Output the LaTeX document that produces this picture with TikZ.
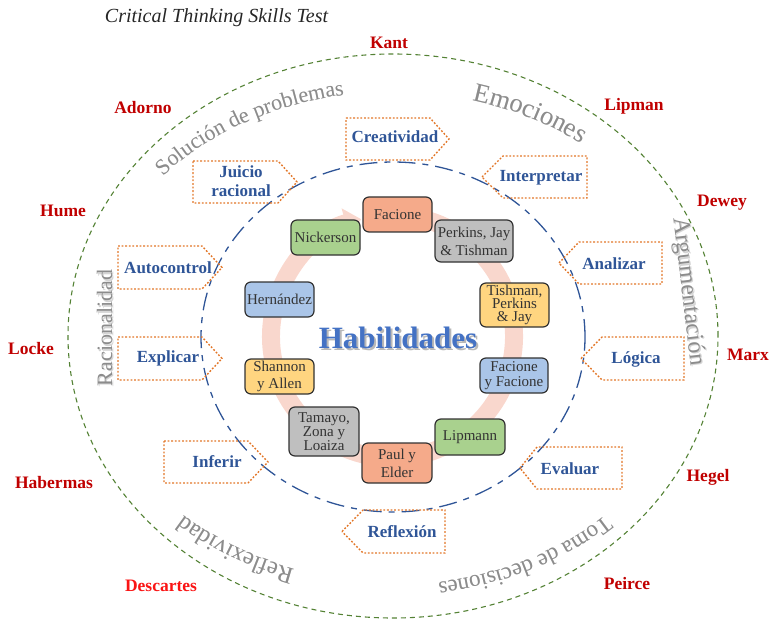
\documentclass[tikz,border=0pt]{standalone}
\usepackage{fontspec}
\setmainfont{Liberation Serif}
\usetikzlibrary{decorations.text,calc,arrows.meta}
\definecolor{redn}{RGB}{192,0,0}
\definecolor{redb}{RGB}{250,20,20}
\definecolor{blued}{RGB}{47,85,151}
\definecolor{bluem}{RGB}{68,114,196}
\definecolor{orng}{RGB}{226,118,40}
\definecolor{grn}{RGB}{84,130,53}
\definecolor{ringc}{RGB}{249,215,205}
\definecolor{salm}{RGB}{245,170,138}
\definecolor{grayf}{RGB}{191,191,191}
\definecolor{yelf}{RGB}{255,213,128}
\definecolor{bluef}{RGB}{170,197,232}
\definecolor{grnf}{RGB}{169,209,142}
\definecolor{bord}{RGB}{50,50,50}
\definecolor{txtd}{RGB}{51,51,51}
\definecolor{gtxt}{RGB}{140,140,140}
\definecolor{gshd}{RGB}{212,212,212}
\definecolor{titc}{RGB}{38,38,38}
\newcommand\penR[5]{\draw[pent] (#1,#4) -- (#2,#4) -- (#3,{(#4+#5)/2}) -- (#2,#5) -- (#1,#5) -- cycle;}
\newcommand\penL[5]{\draw[pent] (#1,{(#4+#5)/2}) -- (#2,#4) -- (#3,#4) -- (#3,#5) -- (#2,#5) -- cycle;}
\begin{document}
\begin{tikzpicture}[x=1pt,y=1pt,
  redname/.style={text=redn, font=\bfseries\fontsize{17.5}{20}\selectfont, inner sep=0pt},
  skill/.style={text=blued, font=\bfseries\fontsize{17}{19}\selectfont, align=center, inner sep=0pt},
  pent/.style={draw=orng, line width=1.4pt, dash pattern=on 1.8pt off 1.8pt},
  author/.style={draw=bord, line width=1.2pt, rounded corners=6pt, align=center, text=txtd,
     font=\fontsize{15}{15}\selectfont, inner sep=0pt, minimum width=69pt, minimum height=35pt},
  gtext/.style={inner sep=0pt, anchor=base},
  outerring/.style={draw=grn, line width=1.1pt, dash pattern=on 5pt off 4pt},
  innerring/.style={draw=blued, line width=1.3pt, dash pattern=on 18pt off 7pt on 6pt off 7pt}
]
\useasboundingbox (0,0) rectangle (770,622);
\coordinate (C) at (393,285);
\coordinate (Co) at (393,286);
\coordinate (Cr) at (392.5,285.5);

% ellipses
\draw[outerring] (Co) ellipse [x radius=325, y radius=282];
\draw[innerring] (C) ellipse [x radius=192, y radius=175];

% circular arrow
\draw[ringc, line width=18pt, -{Triangle[width=30pt,length=16pt]}]
  ($(Cr)+(80:121.5)$) arc[start angle=80, end angle=-255, radius=121.5];

% title
\node[font=\itshape\fontsize{20}{22}\selectfont, text=titc, inner sep=0pt] (title) at (216.5,604) {Critical Thinking Skills Test};

% red names
\node[redname] (kant) at (389,579) {Kant};
\node[redname] (adorno) at (143,514) {Adorno};
\node[redname] (lipman) at (634,516) {Lipman};
\node[redname] (hume) at (63,411) {Hume};
\node[redname] (dewey) at (722,419) {Dewey};
\node[redname] (locke) at (31,273) {Locke};
\node[redname] (marx) at (748,267) {Marx};
\node[redname] (habermas) at (54,139) {Habermas};
\node[redname] (hegel) at (708,145) {Hegel};
\node[redname, text=redb] (descartes) at (161,36) {Descartes};
\node[redname] (peirce) at (627,38) {Peirce};

% gray curved texts (shadow + text)
\foreach \sx/\sy/\col in {1.3/-1.3/gshd, 0/0/gtxt}{
  \begin{scope}[shift={(\sx,\sy)}]
  \path[decorate,decoration={text along path,text align=center,
     text={|\fontsize{22}{22}\selectfont\color{\col}|Solución de problemas}}]
     ($(C)+(150:305 and 245)$) arc[start angle=150,end angle=89.5,x radius=305,y radius=245];
  \path[decorate,decoration={text along path,text align=center,
     text={|\fontsize{26.5}{26.5}\selectfont\color{\col}|Emociones}}]
     ($(C)+(85:305 and 245)$) arc[start angle=85,end angle=41,x radius=305,y radius=245];
  \path[decorate,decoration={text along path,text align=center,
     text={|\fontsize{24}{24}\selectfont\color{\col}|Reflexividad}}]
     ($(C)+(260:305 and 245)$) arc[start angle=260,end angle=217,x radius=305,y radius=245];
  \path[decorate,decoration={text along path,text align=center,
     text={|\fontsize{23}{23}\selectfont\color{\col}|Toma de decisiones}}]
     ($(C)+(-33:305 and 248)$) arc[start angle=-33,end angle=-93,x radius=305,y radius=248];
  \end{scope}
}
\node[gtext, rotate=90, text=gshd, font=\fontsize{22}{22}\selectfont] (racsh) at (113.3,292.7) {Racionalidad};
\node[gtext, rotate=90, text=gtxt, font=\fontsize{22}{22}\selectfont] (rac) at (112,294) {Racionalidad};
\node[gtext, rotate=-83.3, text=gshd, font=\fontsize{24}{24}\selectfont] (argsh) at (683.3,328.7) {Argumentación};
\node[gtext, rotate=-83.3, text=gtxt, font=\fontsize{24}{24}\selectfont] (arg) at (682,330) {Argumentación};

% pentagon boxes
\penR{346}{430}{449}{504}{462}
\penR{193}{278}{297}{461}{419}
\penR{118}{202}{222}{376}{333}
\penR{118}{202}{222}{285}{242}
\penR{164}{248}{268}{181}{139}
\penL{482}{503}{587}{466}{424}
\penL{559}{579}{662}{380}{338}
\penL{581}{602}{684}{285}{242}
\penL{520}{537}{622}{175}{133}
\penL{342}{363}{445}{112}{69}

% skills
\node[skill] (creat) at (395,485) {Creatividad};
\node[skill] (juicio) at (241,441) {Juicio\\racional};
\node[skill] (autoc) at (168,354) {Autocontrol};
\node[skill] (explicar) at (168,264) {Explicar};
\node[skill] (inferir) at (217,160) {Inferir};
\node[skill] (interp) at (541,444) {Interpretar};
\node[skill] (analizar) at (614,358) {Analizar};
\node[skill] (logica) at (636,263) {Lógica};
\node[skill] (evaluar) at (570,153) {Evaluar};
\node[skill] (reflexion) at (402,90) {Reflexión};

% authors
\node[author, fill=salm] (facione) at (397.5,407.5) {Facione};
\node[author, fill=grayf, minimum width=78pt, minimum height=42pt, font=\fontsize{15}{18}\selectfont] (perkins) at (474,381) {Perkins, Jay\\\& Tishman};
\node[author, fill=yelf, minimum height=44pt, font=\fontsize{15}{13}\selectfont] (tishman) at (514.5,317) {Tishman,\\Perkins\\\& Jay};
\node[author, fill=bluef, minimum width=68pt, font=\fontsize{15}{15}\selectfont] (fyf) at (514,246.5) {Facione\\y Facione};
\node[author, fill=grnf, minimum width=70pt, minimum height=36pt] (lipmann) at (470,185) {Lipmann};
\node[author, fill=salm, minimum width=70pt, minimum height=40pt, font=\fontsize{15}{18}\selectfont] (paul) at (397,159) {Paul y\\Elder};
\node[author, fill=grayf, minimum width=70pt, minimum height=49pt, font=\fontsize{15}{13}\selectfont] (tamayo) at (324,190.5) {Tamayo,\\Zona y\\Loaiza};
\node[author, fill=yelf, font=\fontsize{15}{17}\selectfont] (shannon) at (279.5,245.5) {Shannon\\y Allen};
\node[author, fill=bluef] (hernandez) at (279.5,322.5) {Hernández};
\node[author, fill=grnf] (nickerson) at (325.5,384.5) {Nickerson};

% centre
\node[font=\bfseries\fontsize{31}{31}\selectfont, text=black!28, inner sep=0pt] (habsh) at (400,282) {Habilidades};
\node[font=\bfseries\fontsize{31}{31}\selectfont, text=bluem, inner sep=0pt] (hab) at (398,284) {Habilidades};
\end{tikzpicture}
\end{document}
